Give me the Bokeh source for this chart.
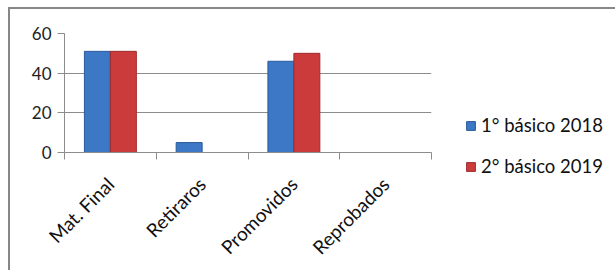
import math
from bokeh.plotting import figure
from bokeh.models import (ColumnDataSource, FixedTicker, Range1d, Legend, LegendItem,
                          LinearAxis, Grid)
from bokeh.embed import file_html
from bokeh.resources import INLINE

categories = ["Mat. Final", "Retiraros", "Promovidos", "Reprobados"]
series_names = ["1° básico 2018", "2° básico 2019"]
s2018 = [51, 5, 46, 0]
s2019 = [51, 0, 50, 0]
y_ticks = [0, 20, 40, 60]

FONT = "Lato"
GRAY = "#8c8c8c"

centers = [i + 0.5 for i in range(len(categories))]
bw = 0.283
src = ColumnDataSource(dict(
    x1=[c - bw / 2 for c in centers],
    x2=[c + bw / 2 for c in centers],
    a=s2018, b=s2019,
))

p = figure(frame_width=367, frame_height=119, output_backend="svg", toolbar_location=None,
           x_range=Range1d(0, len(categories)), y_range=Range1d(0, 60),
           x_axis_type=None, y_axis_type=None,
           min_border_left=54, min_border_top=24, min_border_right=10, min_border_bottom=118)
p.styles = {"border-left": "2px solid #878787", "border-top": "2px solid #878787",
            "margin-left": "8px", "margin-top": "7px"}
p.outline_line_color = None

# y axis
ya = LinearAxis(ticker=FixedTicker(ticks=y_ticks, minor_ticks=[]))
ya.axis_line_color = GRAY
ya.major_tick_line_color = GRAY
ya.major_tick_out = 7
ya.major_tick_in = 0
ya.major_label_text_font = FONT
ya.major_label_text_font_size = "17px"
ya.major_label_text_color = "#222222"
ya.major_label_standoff = 6
p.add_layout(ya, "left")

# x axis
xa = LinearAxis(ticker=FixedTicker(ticks=centers, minor_ticks=list(range(len(categories) + 1))))
xa.major_label_overrides = {c: n for c, n in zip(centers, categories)}
xa.axis_line_color = GRAY
xa.major_tick_line_color = None
xa.minor_tick_line_color = GRAY
xa.minor_tick_out = 7
xa.minor_tick_in = 0
xa.major_label_orientation = math.pi / 4
xa.major_label_text_font = FONT
xa.major_label_text_font_size = "19px"
xa.major_label_text_color = "#111111"
xa.major_label_standoff = 21
p.add_layout(xa, "below")

p.add_layout(Grid(dimension=1, ticker=FixedTicker(ticks=y_ticks), grid_line_color=GRAY))

r1 = p.vbar(x="x1", top="a", bottom=0, width=bw, source=src,
            fill_color="#3C78C6", line_color="#2a5a9a", line_width=1)
r2 = p.vbar(x="x2", top="b", bottom=0, width=bw, source=src,
            fill_color="#CC3B3B", line_color="#9e2a2a", line_width=1)

legend = Legend(items=[LegendItem(label=series_names[0], renderers=[r1]),
                       LegendItem(label=series_names[1], renderers=[r2])],
                location=(34, -25))
legend.border_line_color = None
legend.background_fill_alpha = 0
legend.label_text_font = FONT
legend.label_text_font_size = "18.5px"
legend.label_text_color = "#111111"
legend.glyph_width = 11
legend.glyph_height = 11
legend.label_standoff = 5
legend.spacing = 19
legend.margin = 0
legend.padding = 0
p.add_layout(legend, "right")

open("out.html", "w").write(file_html(p, INLINE))
